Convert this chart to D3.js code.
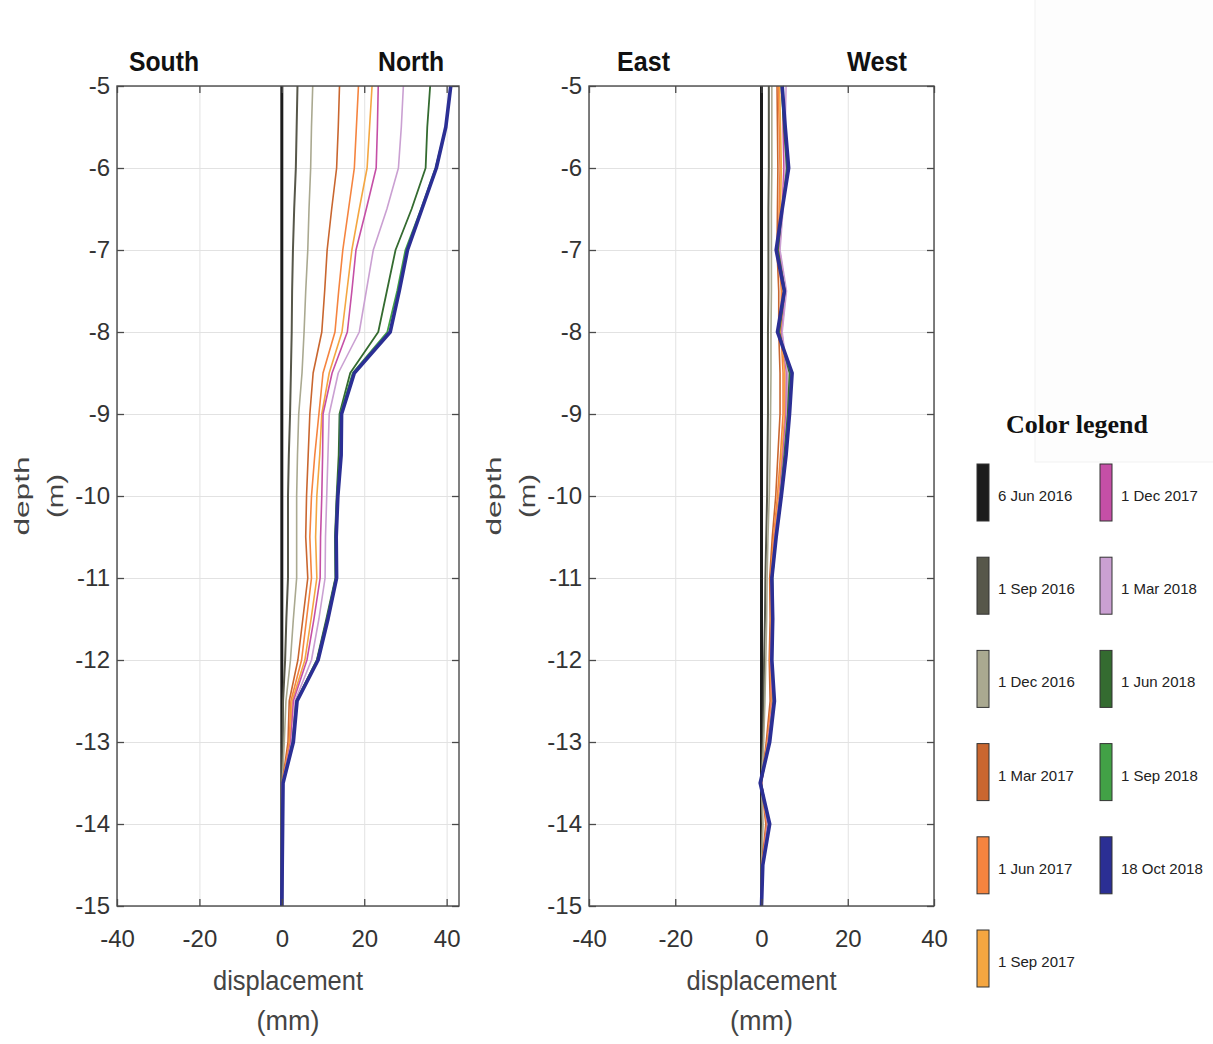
<!DOCTYPE html>
<html>
<head>
<meta charset="UTF-8">
<title>Displacement profiles</title>
<script src="https://cdn.jsdelivr.net/npm/d3@7/dist/d3.min.js"></script>
<style>
	body { margin: 0; background: #fff; }
	svg text { font-family: Arial, "Liberation Sans", sans-serif; }
	.grid line { stroke: #e2e2e2; stroke-width: 1; }
	.grid path { display: none; }
	.ax path { display: none; }
	.ax line { stroke: #4a4a4a; stroke-width: 1.3; }
	.ax text { font-size: 24px; fill: #333; }
</style>
</head>
<body>
<script>

// survey dates (legend) and their line colours
var dates = ["6 Jun 2016", "1 Sep 2016", "1 Dec 2016", "1 Mar 2017", "1 Jun 2017", "1 Sep 2017",
	"1 Dec 2017", "1 Mar 2018", "1 Jun 2018", "1 Sep 2018", "18 Oct 2018"];
var colors = ["#1c1c1c", "#57574a", "#aaa990", "#c9662f", "#f5843f", "#f4a641",
	"#c54fa6", "#caa0d2", "#346b30", "#42a146", "#2b2f94"];
var lineWidths = [3, 2, 1.6, 1.6, 1.6, 1.6, 1.6, 1.6, 1.8, 1.8, 3.6];

// depth of each reading (m)
var depths = [-5, -5.5, -6, -6.5, -7, -7.5, -8, -8.5, -9, -9.5, -10,
	-10.5, -11, -11.5, -12, -12.5, -13, -13.5, -14, -14.5, -15];

var xTicks = [-40, -20, 0, 20, 40];
var yTicks = [-5, -6, -7, -8, -9, -10, -11, -12, -13, -14, -15];

// South (-) / North (+) displacement, mm, one row per date
var southNorth = [
	[0, 0, 0, 0, 0, 0, 0, 0, 0, 0, 0, 0, 0, 0, 0, 0, 0, 0, 0, 0, 0],
	[3.8, 3.6, 3.4, 3.0, 2.7, 2.5, 2.4, 2.2, 2.0, 1.7, 1.5, 1.5, 1.5, 1.1, 0.8, 0.3, 0.2, 0, 0, 0, 0],
	[7.5, 7.2, 7.0, 6.6, 6.3, 5.8, 5.4, 4.9, 4.1, 3.8, 3.6, 3.6, 3.6, 2.8, 2.1, 1.0, 0.6, 0.1, 0, 0, 0],
	[14, 13.7, 13.3, 12.1, 11, 10.4, 9.7, 7.6, 6.8, 6.4, 6.0, 5.8, 6.3, 5.1, 3.9, 1.8, 1.5, 0.1, 0.1, 0, 0],
	[18.6, 18.1, 17.6, 16.2, 14.8, 13.8, 12.9, 10.0, 9.0, 8.0, 7.2, 6.8, 7.2, 6.0, 4.8, 2.2, 1.8, 0.2, 0.1, 0, 0],
	[21.9, 21.3, 20.7, 18.8, 17.0, 15.8, 14.6, 11.5, 9.7, 9.2, 8.5, 8.2, 8.5, 7.1, 5.6, 2.5, 2.0, 0.2, 0.1, 0, 0],
	[23.4, 23.2, 22.9, 20.5, 18.0, 17.0, 15.9, 12.2, 10.0, 9.9, 9.7, 9.4, 9.3, 7.8, 6.1, 2.8, 2.2, 0.2, 0.1, 0, 0],
	[29.5, 29.0, 28.3, 25.5, 22.2, 20.5, 18.8, 13.7, 11.5, 11.2, 10.9, 10.6, 10.5, 9.0, 7.2, 3.2, 2.4, 0.2, 0.1, 0.1, 0],
	[36.0, 35.3, 34.9, 31.5, 27.6, 25.5, 23.4, 16.6, 14.0, 13.8, 13.3, 12.9, 13.0, 10.8, 8.5, 3.5, 2.6, 0.3, 0.2, 0.1, 0],
	[41.0, 39.8, 37.3, 33.8, 30.0, 28.0, 25.6, 17.2, 14.2, 14.2, 13.4, 13.0, 13.1, 11.0, 8.6, 3.6, 2.7, 0.3, 0.2, 0.1, 0],
	[41.0, 39.8, 37.5, 34.0, 30.5, 28.5, 26.3, 17.6, 14.5, 14.4, 13.6, 13.2, 13.3, 11.2, 8.8, 3.7, 2.8, 0.3, 0.2, 0.1, 0]
];

// East (-) / West (+) displacement, mm, one row per date
var eastWest = [
	[0, 0, 0, 0, 0, 0, 0, 0, 0, 0, 0, 0, 0, 0, 0, 0, 0, 0, 0, 0, 0],
	[1.7, 1.7, 1.7, 1.6, 1.6, 1.6, 1.5, 1.5, 1.5, 1.4, 1.3, 1.1, 0.9, 0.8, 0.6, 0.5, 0.3, 0, 0.2, 0, 0],
	[2.4, 2.4, 2.4, 2.3, 2.3, 2.3, 2.2, 2.2, 2.1, 2.0, 1.8, 1.5, 1.3, 1.2, 1.0, 0.8, 0.5, 0, 0.3, 0, 0],
	[3.6, 3.7, 3.8, 3.7, 3.6, 4.0, 4.0, 4.3, 4.3, 3.8, 3.3, 2.5, 1.9, 2.0, 1.8, 2.0, 1.1, 0, 1.0, 0.1, 0],
	[3.9, 4.1, 4.3, 4.1, 3.9, 4.6, 4.5, 5.0, 5.0, 4.4, 3.7, 2.8, 2.1, 2.2, 2.0, 2.3, 1.3, 0, 1.2, 0.2, 0],
	[4.2, 4.4, 4.6, 4.4, 4.0, 5.0, 4.6, 5.4, 5.4, 4.7, 4.0, 3.0, 2.2, 2.3, 2.1, 2.5, 1.4, 0, 1.3, 0.2, 0],
	[5.0, 5.0, 5.2, 4.8, 4.2, 5.6, 4.7, 5.8, 5.7, 5.0, 4.2, 3.1, 2.3, 2.4, 2.2, 2.6, 1.5, 0, 1.4, 0.2, 0],
	[5.7, 5.5, 5.5, 5.0, 4.3, 5.8, 4.8, 6.0, 5.9, 5.2, 4.3, 3.2, 2.4, 2.5, 2.3, 2.7, 1.6, 0, 1.5, 0.3, 0],
	[4.6, 5.2, 5.9, 4.8, 3.8, 5.4, 4.1, 6.5, 6.1, 5.3, 4.4, 3.3, 2.5, 2.6, 2.4, 2.8, 1.7, -0.1, 1.7, 0.3, 0],
	[4.7, 5.4, 6.1, 4.8, 3.6, 5.4, 3.9, 6.8, 6.3, 5.5, 4.5, 3.4, 2.5, 2.6, 2.4, 2.9, 1.8, -0.2, 1.8, 0.3, 0],
	[4.8, 5.5, 6.3, 4.8, 3.4, 5.3, 3.7, 7.1, 6.5, 5.7, 4.6, 3.4, 2.4, 2.6, 2.4, 3.0, 1.9, -0.3, 1.9, 0.3, 0]
];

var svg = d3.select("body").append("svg")
	.attr("width", 1213)
	.attr("height", 1044);

// faint panel behind the legend corner, as in the source figure
svg.append("rect")
	.attr("x", 1035).attr("y", -1).attr("width", 180).attr("height", 463)
	.attr("fill", "#fdfdfd").attr("stroke", "#f1f1f1");

var TOP = 86, H = 820;

// plain hyphen minus, like the original figure
function tickLabel(d) { return String(d); }

function drawPanel(left, width, xMax, values, leftTitle, rightTitle) {
	var x = d3.scaleLinear().domain([-40, xMax]).range([0, width]);
	var y = d3.scaleLinear().domain([-15, -5]).range([H, 0]);

	var g = svg.append("g").attr("transform", "translate(" + left + "," + TOP + ")");

	g.append("g").attr("class", "grid")
		.attr("transform", "translate(0," + H + ")")
		.call(d3.axisBottom(x).tickValues(xTicks).tickSize(-H).tickFormat(""));
	g.append("g").attr("class", "grid")
		.call(d3.axisLeft(y).tickValues(yTicks).tickSize(-width).tickFormat(""));

	var line = d3.line()
		.x(function (d) { return x(d[0]); })
		.y(function (d) { return y(d[1]); });

	values.forEach(function (vals, i) {
		g.append("path")
			.datum(vals.map(function (v, j) { return [v, depths[j]]; }))
			.attr("d", line)
			.attr("fill", "none")
			.attr("stroke", colors[i])
			.attr("stroke-width", lineWidths[i])
			.attr("stroke-linejoin", "round");
	});

	// MATLAB style box with ticks inside on all four sides
	g.append("g").attr("class", "ax")
		.attr("transform", "translate(0," + H + ")")
		.call(d3.axisBottom(x).tickValues(xTicks).tickSize(-7).tickPadding(24).tickFormat(tickLabel));
	g.append("g").attr("class", "ax")
		.call(d3.axisTop(x).tickValues(xTicks).tickSize(-7).tickFormat(""));
	g.append("g").attr("class", "ax")
		.call(d3.axisLeft(y).tickValues(yTicks).tickSize(-7).tickPadding(7).tickFormat(tickLabel));
	g.append("g").attr("class", "ax")
		.attr("transform", "translate(" + width + ",0)")
		.call(d3.axisRight(y).tickValues(yTicks).tickSize(-7).tickFormat(""));

	g.append("rect")
		.attr("width", width).attr("height", H)
		.attr("fill", "none").attr("stroke", "#4a4a4a").attr("stroke-width", 1.4);

	// direction titles
	g.append("text").text(leftTitle[0])
		.attr("x", leftTitle[1]).attr("y", -15)
		.attr("font-size", 27).attr("font-weight", "bold").attr("fill", "#111")
		.attr("textLength", leftTitle[2]).attr("lengthAdjust", "spacingAndGlyphs");
	g.append("text").text(rightTitle[0])
		.attr("x", rightTitle[1]).attr("y", -15)
		.attr("font-size", 27).attr("font-weight", "bold").attr("fill", "#111")
		.attr("textLength", rightTitle[2]).attr("lengthAdjust", "spacingAndGlyphs");

	// axis labels
	g.append("text").text("depth")
		.attr("transform", "translate(-88," + (H / 2) + ") rotate(-90)")
		.attr("text-anchor", "middle").attr("font-size", 21).attr("fill", "#444")
		.attr("textLength", 79).attr("lengthAdjust", "spacingAndGlyphs");
	g.append("text").text("(m)")
		.attr("transform", "translate(-54," + (H / 2) + ") rotate(-90)")
		.attr("text-anchor", "middle").attr("font-size", 22).attr("fill", "#444")
		.attr("textLength", 44).attr("lengthAdjust", "spacingAndGlyphs");

	g.append("text").text("displacement")
		.attr("x", width / 2).attr("y", H + 84)
		.attr("text-anchor", "middle").attr("font-size", 27).attr("fill", "#444")
		.attr("textLength", 150).attr("lengthAdjust", "spacingAndGlyphs");
	g.append("text").text("(mm)")
		.attr("x", width / 2).attr("y", H + 124)
		.attr("text-anchor", "middle").attr("font-size", 27).attr("fill", "#444");
}

drawPanel(117, 342, 43, southNorth, ["South", 12, 70], ["North", 261, 66]);
drawPanel(589, 345, 40, eastWest, ["East", 28, 53], ["West", 258, 60]);

// legend
svg.append("text").text("Color legend")
	.attr("x", 1077).attr("y", 433)
	.attr("text-anchor", "middle")
	.style("font-family", "'Liberation Serif', 'Times New Roman', serif")
	.attr("font-weight", "bold").attr("font-size", 26).attr("fill", "#111");

var legend = svg.append("g");
dates.forEach(function (label, i) {
	var col = i < 6 ? 0 : 1;
	var row = i < 6 ? i : i - 6;
	var sx = col === 0 ? 977 : 1100;
	var sy = 464 + row * 93.2;
	legend.append("rect")
		.attr("x", sx).attr("y", sy).attr("width", 12).attr("height", 57)
		.attr("fill", colors[i]).attr("stroke", "#333").attr("stroke-width", 1);
	legend.append("text").text(label)
		.attr("x", sx + 21).attr("y", sy + 37)
		.attr("font-size", 15).attr("fill", "#222");
});

</script>
</body>
</html>
